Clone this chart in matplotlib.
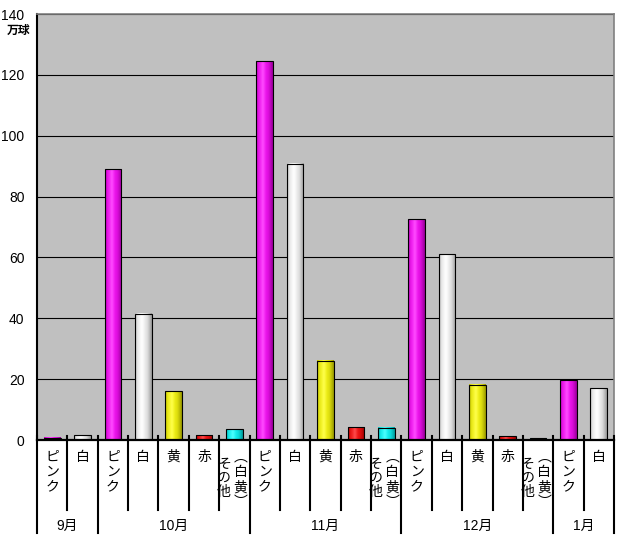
import numpy as np
import matplotlib.pyplot as plt
from matplotlib.transforms import blended_transform_factory

plt.rcParams['font.family'] = ['Liberation Sans', 'Noto Sans CJK JP', 'DejaVu Sans']

months = ['9月', '10月', '11月', '12月', '1月']
month_items = [
    ['ピンク', '白'],
    ['ピンク', '白', '黄', '赤', 'その他（白黄）'],
    ['ピンク', '白', '黄', '赤', 'その他（白黄）'],
    ['ピンク', '白', '黄', '赤', 'その他（白黄）'],
    ['ピンク', '白'],
]
month_values = [
    [0.8, 1.5],
    [89.0, 41.5, 16.0, 1.5, 3.5],
    [124.5, 90.8, 26.0, 4.2, 4.0],
    [72.5, 61.0, 18.2, 1.2, 0.5],
    [19.6, 17.0],
]
item_colors = {'ピンク': '#FF00FF', '白': '#FFFFFF', '黄': '#FFFF00',
               '赤': '#FF0000', 'その他（白黄）': '#00FFFF'}

labels = [lab for grp in month_items for lab in grp]
values = [v for grp in month_values for v in grp]
x = np.arange(len(values))

W, H = 622, 544
fig = plt.figure(figsize=(W / 100, H / 100), dpi=100)
ax = fig.add_axes([37 / W, 1 - 440 / H, (614 - 37) / W, 426 / H])
ax.set_facecolor('#C0C0C0')


def shaded(color, n=40):
    c = np.array(plt.matplotlib.colors.to_rgb(color))
    t = np.linspace(0, 1, n)
    bright = np.interp(t, [0, 0.15, 0.4, 0.75, 1], [0.72, 0.9, 1.0, 0.85, 0.6])
    hi = np.interp(t, [0, 0.25, 0.4, 0.6, 1], [0, 0.15, 0.3, 0.08, 0])
    rgb = c[None, :] * bright[:, None]
    rgb = rgb + (1 - rgb) * hi[:, None]
    return rgb[None, :, :]


bars = ax.bar(x, values, width=0.55, facecolor='none', edgecolor='black',
              linewidth=0.8, zorder=3)
for rect, lab in zip(bars, labels):
    x0, w, h = rect.get_x(), rect.get_width(), rect.get_height()
    ax.imshow(shaded(item_colors[lab]), extent=(x0, x0 + w, 0, h),
              aspect='auto', zorder=2, interpolation='bilinear')

ax.set_xlim(-0.5, len(values) - 0.5)
ax.set_ylim(0, 140)
ax.set_yticks(range(0, 141, 20))
ax.tick_params(axis='y', length=0, pad=9, labelsize=10)
ax.set_xticks([])
ax.yaxis.grid(True, color='black', linewidth=0.8)
ax.set_axisbelow(True)
for s in ['top', 'right']:
    ax.spines[s].set_color('#808080')
    ax.spines[s].set_linewidth(1.2)
ax.spines['left'].set_linewidth(1.5)
ax.spines['bottom'].set_linewidth(1.6)

fig.text(19 / W, 1 - 31 / H, '万球', ha='center', va='center', fontsize=8.5,
         fontweight='bold')

# category table under the axis
tr = blended_transform_factory(ax.transData, ax.transAxes)
px = 1 / 426
bounds = np.cumsum([0] + [len(g) for g in month_items])
for b in range(len(values) + 1):
    bottom = -93 * px if b in bounds else -70 * px
    ax.plot([b - 0.5, b - 0.5], [4 * px, bottom], color='black', lw=1.5,
            transform=tr, clip_on=False, zorder=5)

for xi, lab in zip(x, labels):
    if '（' in lab:
        main, par = lab.split('（')
        par = '︵' + par.rstrip('）') + '︶'
        ax.text(xi + 0.2, -10 * px, '\n'.join(par), ha='center', va='top',
                fontsize=10, linespacing=1.1, transform=tr)
        ax.text(xi - 0.34, -17 * px, '\n'.join(main), ha='center', va='top',
                fontsize=10, linespacing=1.0, transform=tr)
    else:
        ax.text(xi, -10 * px, '\n'.join(lab), ha='center', va='top',
                fontsize=10, linespacing=1.08, transform=tr)

for i, m in enumerate(months):
    mid = (bounds[i] + bounds[i + 1] - 1) / 2
    ax.text(mid, -86 * px, m, ha='center', va='center', fontsize=10,
            transform=tr)

fig.savefig('out.png', dpi=100)
